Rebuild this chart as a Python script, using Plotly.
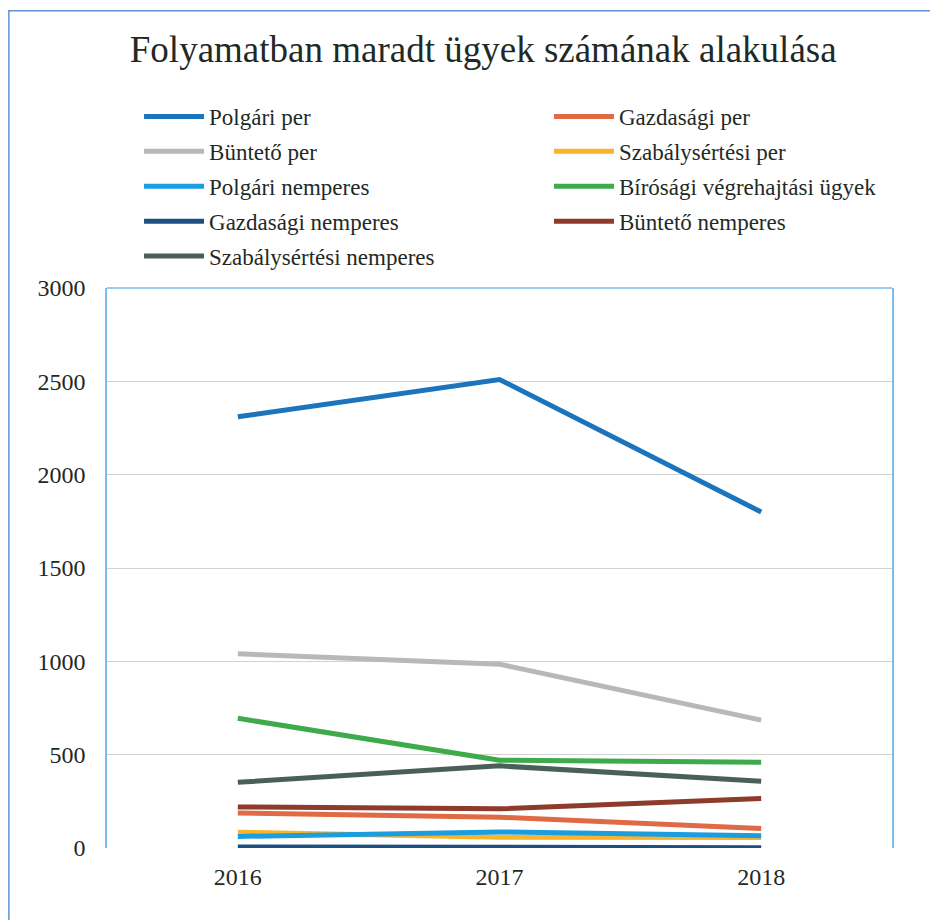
import plotly.graph_objects as go

years = ["2016", "2017", "2018"]
series_names = [
    "Polgári per", "Gazdasági per",
    "Büntető per", "Szabálysértési per",
    "Polgári nemperes", "Bírósági végrehajtási ügyek",
    "Gazdasági nemperes", "Büntető nemperes",
    "Szabálysértési nemperes",
]
polgari_per = [2310, 2510, 1800]
gazdasagi_per = [188, 165, 105]
bunteto_per = [1040, 985, 685]
szabalysertesi_per = [85, 58, 56]
polgari_nemperes = [62, 86, 66]
birosagi_vegrehajtasi = [695, 470, 460]
gazdasagi_nemperes = [5, 3, 2]
bunteto_nemperes = [220, 210, 265]
szabalysertesi_nemperes = [352, 440, 357]

values = [polgari_per, gazdasagi_per, bunteto_per, szabalysertesi_per,
          polgari_nemperes, birosagi_vegrehajtasi, gazdasagi_nemperes,
          bunteto_nemperes, szabalysertesi_nemperes]
colors = ["#1c75bc", "#e06a45", "#b5bab7", "#f9b52a", "#1b9de0",
          "#3daa4c", "#1d4f80", "#8e3b2b", "#4a5f57"]
y_ticks = [0, 500, 1000, 1500, 2000, 2500, 3000]

FONT = "Liberation Serif"
TXT = "#1f2a26"
FRAME = "#7dbde6"
OUTER = "#5f93d3"

fig = go.Figure()
for i, (name, vals, col) in enumerate(zip(series_names, values, colors)):
    fig.add_trace(go.Scatter(x=years, y=vals, name=name, mode="lines",
                             legendgroup=f"g{i}",
                             legend="legend" if i % 2 == 0 else "legend2",
                             line=dict(color=col, width=5)))

leg_common = dict(orientation="v", yanchor="top", xanchor="left",
                  xref="container", yref="container", itemwidth=60,
                  tracegroupgap=2, traceorder="grouped",
                  font=dict(size=23, family=FONT, color=TXT),
                  bgcolor="rgba(0,0,0,0)")

fig.update_layout(
    width=930, height=912,
    paper_bgcolor="white", plot_bgcolor="white",
    margin=dict(l=99, r=46, t=280, b=72, autoexpand=False),
    font=dict(family=FONT, color=TXT),
    title=dict(text="Folyamatban maradt ügyek számának alakulása",
               x=0.511, xanchor="center", xref="container",
               y=0.955, yanchor="middle", yref="container",
               font=dict(size=37, family=FONT, color=TXT)),
    showlegend=True,
    legend=dict(x=0.1409, y=0.9046, **leg_common),
    legend2=dict(x=0.5817, y=0.9046, **leg_common),
    xaxis=dict(type="category", range=[-0.5, 2.5], showgrid=False,
               showline=False, ticks="", tickfont=dict(size=24), ticklabelstandoff=12),
    yaxis=dict(range=[0, 3000], tickvals=y_ticks, showgrid=True,
               gridcolor="#d2d2d2", gridwidth=1, zeroline=False,
               showline=True, linecolor=FRAME, linewidth=1.5, mirror=True,
               ticks="", tickfont=dict(size=24), ticklabelstandoff=15),
    shapes=[
        dict(type="line", xref="paper", yref="paper", x0=0, x1=1, y0=1, y1=1,
             line=dict(color=FRAME, width=1.5)),
        dict(type="rect", xref="paper", yref="paper", x0=-0.125, x1=1.2,
             y0=-0.3, y1=1.495, line=dict(color=OUTER, width=1.5),
             layer="below"),
    ],
)

fig.write_html("out.html")
